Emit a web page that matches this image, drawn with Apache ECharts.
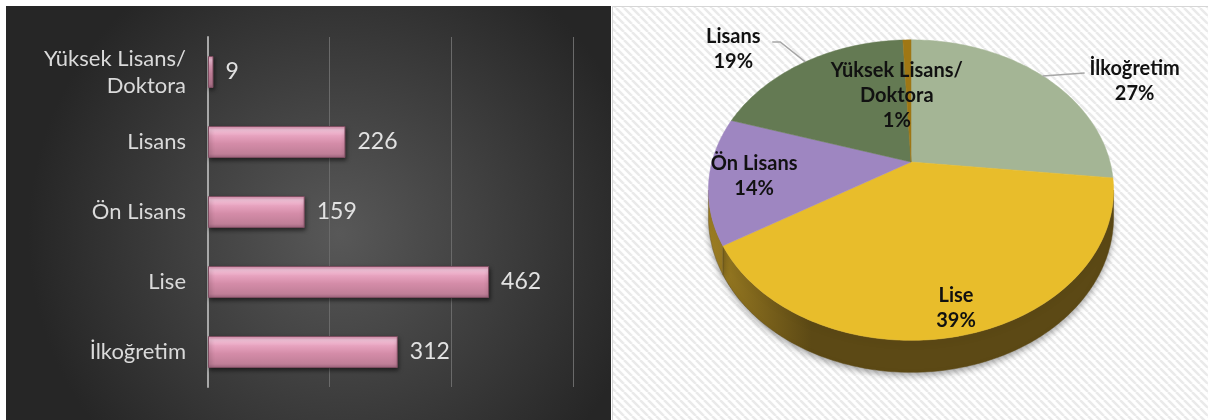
<!DOCTYPE html>
<html>
<head>
<meta charset="utf-8">
<script src="https://cdn.jsdelivr.net/npm/echarts@6/dist/echarts.min.js"></script>
<style>
  html, body { margin: 0; padding: 0; background: #fff; }
  #echarts_main { width: 1208px; height: 420px; }
</style>
</head>
<body>
<div id="echarts_main"></div>
<script>
// education levels, in pie order (clockwise from 12 o'clock)
const categories = ['İlkoğretim', 'Lise', 'Ön Lisans', 'Lisans', 'Yüksek Lisans/Doktora']
const counts = [312, 462, 159, 226, 9]
const percentLabels = ['27%', '39%', '14%', '19%', '1%']
const xTicks = [0, 200, 400, 600]

// pie look
const sliceColors = ['#a4b595', '#e8bd2b', '#9e86c1', '#647a53', '#9f7714']
const sideColors = ['#66715a', '#5c4915', '#6e5a2a', '#3e4c33', '#5e470c']
const sideLight = ['#8a9a7a', '#9c7d22', '#9c7d22', '#56684a', '#8a6a18']
// leader line / label placement for labels outside the pie (offsets from rim point)
const outsideLabels = {
    0: { leader: [[42, -3]], text: [92, 5] },
    3: { leader: [[-25, -20], [-33, -20]], text: [-72, -13] }
}
const insideRadius = { 1: 0.87, 2: 0.78, 4: 0.5 }
// 3d pie seen in perspective: apex, half axes, perspective factor, wall depth
const PIE = { x0: 911, y0: 162, a: 199, b: 145, k: 0.187, depth: 26 }

const total = counts.reduce((a, b) => a + b, 0)
const startAngles = []
let acc = 0
counts.forEach(v => { startAngles.push(acc / total * Math.PI * 2); acc += v })

// angle t is clockwise from 12 o'clock, f is radius fraction, dz is drop below top face
function proj(t, f, dz) {
    const s = 1 / (1 + PIE.k * f * Math.cos(t))
    return [PIE.x0 + PIE.a * f * Math.sin(t) * s, PIE.y0 - PIE.b * f * Math.cos(t) * s + (dz || 0) * s]
}

function arc(t0, t1, dz) {
    const n = Math.max(2, Math.ceil((t1 - t0) / 0.02))
    const pts = []
    for (let i = 0; i <= n; i++) pts.push(proj(t0 + (t1 - t0) * i / n, 1, dz))
    return pts
}

function stripes() {
    const c = document.createElement('canvas')
    c.width = 8; c.height = 8
    const ctx = c.getContext('2d')
    ctx.fillStyle = '#ffffff'
    ctx.fillRect(0, 0, 8, 8)
    ctx.strokeStyle = '#eaeaea'
    ctx.lineWidth = 2.5
    for (const k of [-8, 0, 8]) {
        ctx.beginPath(); ctx.moveTo(k, 0); ctx.lineTo(k + 8, 8); ctx.stroke()
    }
    return c
}

const chart = echarts.init(document.getElementById('echarts_main'))

const FONT = 'Lato, "Open Sans", sans-serif'
const sideFrom = Math.acos(-PIE.k), sideTo = Math.PI * 2 - Math.acos(-PIE.k)

const option = {
    animation: false,
    graphic: [
        {
            type: 'rect', z: -10, silent: true,
            shape: { x: 6, y: 6, width: 605, height: 414 },
            style: {
                fill: {
                    type: 'radial', x: 0.55, y: 0.55, r: 0.75,
                    colorStops: [
                        { offset: 0, color: '#585858' },
                        { offset: 1, color: '#262626' }
                    ]
                }
            }
        },
        {
            type: 'rect', z: -10, silent: true,
            shape: { x: 612.5, y: 6.5, width: 600, height: 420 },
            style: { fill: { image: stripes(), repeat: 'repeat' }, stroke: '#d6d6d6', lineWidth: 1 }
        }
    ],
    grid: { left: 208, right: 635, top: 37, bottom: 33 },
    xAxis: {
        type: 'value',
        min: xTicks[0],
        max: xTicks[xTicks.length - 1],
        interval: xTicks[1] - xTicks[0],
        axisLabel: { show: false },
        axisLine: { show: false },
        axisTick: { show: false },
        splitLine: { lineStyle: { color: '#6a6a6a', width: 1 } }
    },
    yAxis: {
        type: 'category',
        data: categories,
        axisTick: { show: false },
        axisLine: { lineStyle: { color: '#a8a8a8', width: 2 } },
        axisLabel: {
            color: '#dadada',
            fontSize: 22,
            fontFamily: FONT,
            margin: 22,
            lineHeight: 27,
            formatter: name => name.replace('/', '/\n')
        }
    },
    series: [
        {
            type: 'bar',
            data: counts,
            barWidth: 32,
            itemStyle: {
                color: {
                    type: 'linear', x: 0, y: 0, x2: 0, y2: 1,
                    colorStops: [
                        { offset: 0, color: '#d98aab' },
                        { offset: 0.12, color: '#fac9df' },
                        { offset: 0.3, color: '#e7a3bf' },
                        { offset: 0.55, color: '#d48ca8' },
                        { offset: 0.88, color: '#bf7e97' },
                        { offset: 1, color: '#a06680' }
                    ]
                },
                borderColor: '#7e4e61',
                borderWidth: 1,
                shadowColor: 'rgba(0,0,0,0.5)',
                shadowBlur: 4,
                shadowOffsetY: 2,
                shadowOffsetX: 1
            },
            label: {
                show: true,
                position: 'right',
                distance: 12,
                color: '#e2e2e2',
                fontSize: 23,
                fontFamily: FONT
            }
        },
        {
            // pie side walls
            type: 'custom',
            coordinateSystem: 'none',
            z: 3,
            data: counts.map(v => [v]),
            renderItem: function (params, api) {
                const i = params.dataIndex
                const t0 = startAngles[i]
                const t1 = t0 + api.value(0) / total * Math.PI * 2
                const s = Math.max(t0, sideFrom), e = Math.min(t1, sideTo)
                if (e <= s) return { type: 'group', children: [] }
                const pts = arc(s, e, 0).concat(arc(s, e, PIE.depth).reverse())
                return {
                    type: 'polygon',
                    shape: { points: pts },
                    style: {
                        fill: {
                            type: 'linear', global: true,
                            x: PIE.x0 - PIE.a, y: 0, x2: PIE.x0 + PIE.a, y2: 0,
                            colorStops: [
                                { offset: 0, color: sideLight[i] },
                                { offset: 0.25, color: sideColors[i] },
                                { offset: 1, color: sideColors[i] }
                            ]
                        },
                        stroke: sideColors[i],
                        lineWidth: 0.5,
                        shadowColor: 'rgba(0,0,0,0.35)',
                        shadowBlur: 6,
                        shadowOffsetY: 3
                    }
                }
            }
        },
        {
            // pie top faces and labels
            type: 'custom',
            coordinateSystem: 'none',
            z: 4,
            data: counts.map(v => [v]),
            renderItem: function (params, api) {
                const i = params.dataIndex
                const t0 = startAngles[i]
                const t1 = t0 + api.value(0) / total * Math.PI * 2
                const tm = (t0 + t1) / 2
                const children = [{
                    type: 'polygon',
                    shape: { points: [[PIE.x0, PIE.y0]].concat(arc(t0, t1, 0)) },
                    style: { fill: sliceColors[i], stroke: sliceColors[i], lineWidth: 0.5 }
                }]
                const text = categories[i].replace('/', '/\n') + '\n' + percentLabels[i]
                const textStyle = {
                    text: text, fill: '#111', fontSize: 20, fontWeight: 'bold',
                    fontFamily: FONT, align: 'center', verticalAlign: 'middle', lineHeight: 25
                }
                const out = outsideLabels[i]
                if (out) {
                    const e = proj(tm, 1)
                    const line = [e].concat(out.leader.map(p => [e[0] + p[0], e[1] + p[1]]))
                    children.push({
                        type: 'polyline',
                        shape: { points: line },
                        style: { stroke: '#a6a6a6', lineWidth: 1.5, fill: null }
                    })
                    children.push({ type: 'text', x: e[0] + out.text[0], y: e[1] + out.text[1], style: textStyle })
                } else {
                    const f = insideRadius[i] || 0.78
                    const p = proj(tm, f)
                    children.push({ type: 'text', x: p[0] - (f < 0.6 ? 12 : 0), y: p[1], style: textStyle })
                }
                return { type: 'group', children: children }
            }
        }
    ]
}

chart.setOption(option)
</script>
</body>
</html>
